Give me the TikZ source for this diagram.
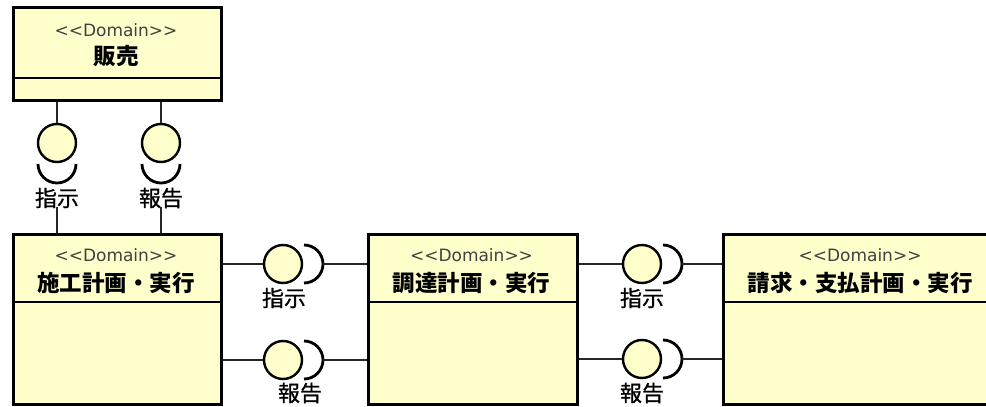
\documentclass[tikz,border=0pt]{standalone}
\usepackage{fontspec}
\setmainfont{DejaVu Sans}[Ligatures=TeXOff]
\newfontfamily\cjk{Noto Sans CJK JP}
\newfontfamily\cjkm{Noto Sans CJK JP}[FakeBold=0.8]
\definecolor{umlfill}{RGB}{255,255,204}
\begin{document}
\begin{tikzpicture}[x=1pt,y=-1pt,
  box/.style={draw=black, line width=3pt, fill=umlfill, rectangle, anchor=north west, inner sep=0pt},
  stereo/.style={font=\fontsize{17}{19}\selectfont, text=black!75, inner sep=0pt},
  dname/.style={font=\cjk\bfseries\fontsize{22.5}{25}\selectfont, inner sep=0pt},
  lbl/.style={font=\cjkm\fontsize{22}{24}\selectfont, inner sep=1pt},
  ball/.style={circle, draw=black, line width=2.4pt, fill=umlfill, minimum size=38pt, inner sep=0pt},
  sock/.style={draw=black, line width=2.8pt},
  conn/.style={draw=black!85, line width=1.2pt},
  sep/.style={draw=black, line width=1.2pt}]
\useasboundingbox (0,0) rectangle (986,407);
\clip (0,0) rectangle (986,407);

% boxes
\node[box, minimum width=208pt, minimum height=93pt] (A) at (12,6) {};
\draw[sep] (A.west |- 0,78) -- (A.east |- 0,78);
\node[stereo] (As) at (116,30) {<<Domain>>};
\node[dname] (An) at (116,56) {販売};

\node[box, minimum width=208pt, minimum height=170pt] (B) at (12,233) {};
\draw[sep] (B.west |- 0,302) -- (B.east |- 0,302);
\node[stereo] (Bs) at (116,255) {<<Domain>>};
\node[dname] (Bn) at (116,283) {施工計画・実行};

\node[box, minimum width=209pt, minimum height=170pt] (C) at (367,233) {};
\draw[sep] (C.west |- 0,302) -- (C.east |- 0,302);
\node[stereo] (Cs) at (471.5,255) {<<Domain>>};
\node[dname] (Cn) at (471.5,283) {調達計画・実行};

\node[box, minimum width=276pt, minimum height=170pt] (D) at (722,233) {};
\draw[sep] (D.west |- 0,302) -- (D.east |- 0,302);
\node[stereo] (Ds) at (860,255) {<<Domain>>};
\node[dname] (Dn) at (860,283) {請求・支払計画・実行};

% vertical lollipops between A and B
\foreach \n/\x/\t in {1/57/指示, 2/161/報告} {
  \node[ball] (b\n) at (\x,143) {};
  \draw[conn] (b\n.north |- A.south) -- (b\n.north);
  \draw[sock] ([shift={(-19,21)}]b\n.center) arc[start angle=180, end angle=360, radius=19pt];
  \node[lbl] (l\n) at (\x,198) {\t};
  \draw[conn] ([yshift=2pt]l\n.south) -- (l\n.south |- B.north);
}

% horizontal lollipops B -> C
\node[ball] (b3) at (283,264) {};
\node[ball] (b4) at (283,360) {};
% horizontal lollipops C -> D
\node[ball] (b5) at (642,264) {};
\node[ball] (b6) at (642,359) {};

\foreach \n in {3,4,5,6} {
  \draw[sock] ([shift={(21,-19)}]b\n.center) arc[start angle=90, end angle=-90, radius=19pt];
  \coordinate (s\n) at ([xshift=40pt]b\n.center);
}
\draw[conn] (B.east |- b3) -- (b3.west);
\draw[conn] (s3) -- (C.west |- s3);
\draw[conn] (B.east |- b4) -- (b4.west);
\draw[conn] (s4) -- (C.west |- s4);
\draw[conn] (C.east |- b5) -- (b5.west);
\draw[conn] (s5) -- (D.west |- s5);
\draw[conn] (C.east |- b6) -- (b6.west);
\draw[conn] (s6) -- (D.west |- s6);

\node[lbl] (l3) at (284,298) {指示};
\node[lbl] (l4) at (300,393) {報告};
\node[lbl] (l5) at (642,298) {指示};
\node[lbl] (l6) at (642,393) {報告};
\end{tikzpicture}
\end{document}
